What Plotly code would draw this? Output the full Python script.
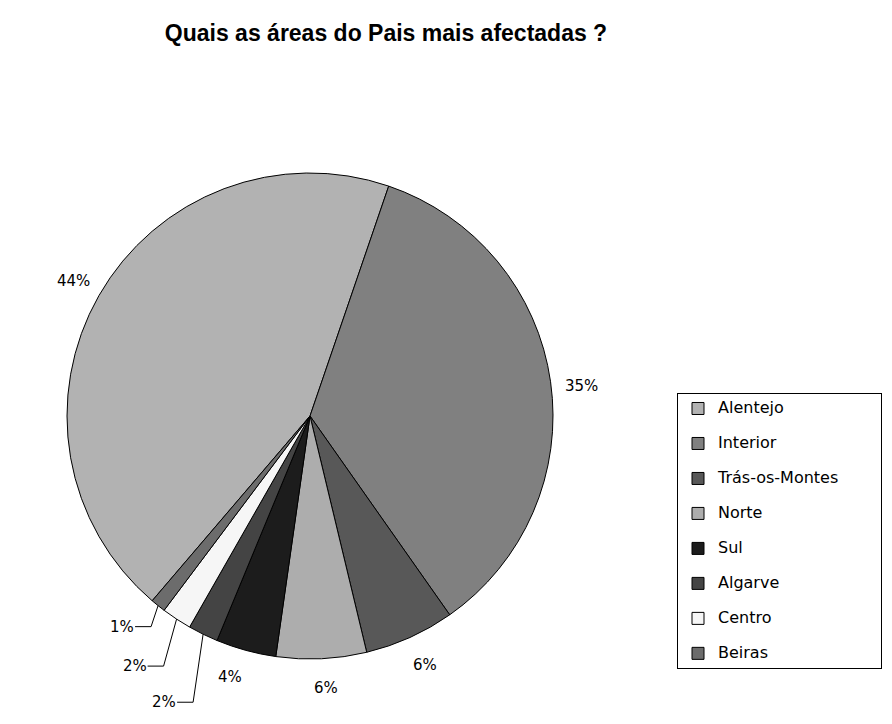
import math
import plotly.graph_objects as go

# Survey answers: share of responses per region (%)
regions = ["Alentejo", "Interior", "Trás-os-Montes", "Norte", "Sul", "Algarve", "Centro", "Beiras"]
shares = [44, 35, 6, 6, 4, 2, 2, 1]
slice_colors = ["#b2b2b2", "#808080", "#585858", "#adadad", "#1c1c1c", "#444444", "#f6f6f6", "#6c6c6c"]

title_text = "Quais as áreas do Pais mais afectadas ?"

# Page / pie geometry (pixels)
W, H = 892, 724
PIE_CX, PIE_CY, PIE_R = 310, 416, 243
ROTATION = 220.5

# Label placement relative to each slice's outer-edge midpoint (px),
# and whether the label is tied back to its slice with a leader line
label_offsets = [(-25, -15), (31, 4), (15, 28), (5, 29), (-16, 27), (-39, 68), (-42, 47), (-36, 21)]
label_leaders = [False, False, False, False, False, True, True, True]


def to_paper(px, py):
    return px / W, 1 - py / H


# Percentage labels placed around the pie from each slice's mid angle
total = sum(shares)
start = ROTATION
annotations = []
shapes = []
for val, (dx, dy), leader in zip(shares, label_offsets, label_leaders):
    sweep = 360 * val / total
    mid = math.radians(start + sweep / 2)
    start += sweep
    ex = PIE_CX + PIE_R * math.sin(mid)
    ey = PIE_CY - PIE_R * math.cos(mid)
    lx, ly = ex + dx, ey + dy
    px, py = to_paper(lx, ly)
    annotations.append(dict(
        x=px, y=py, xref="paper", yref="paper",
        text=f"{round(100 * val / total)}%",
        showarrow=False, xanchor="center", yanchor="middle",
        font=dict(family="DejaVu Sans", size=15, color="#000000"),
    ))
    if leader:
        p0 = to_paper(ex, ey)
        p1 = to_paper(lx + 29, ly)
        p2 = to_paper(lx + 13, ly)
        shapes.append(dict(
            type="path", xref="paper", yref="paper",
            path=f"M {p0[0]},{p0[1]} L {p1[0]},{p1[1]} L {p2[0]},{p2[1]}",
            line=dict(color="#000000", width=1),
        ))

# Legend entries: larger visible text, with a spacer line that sets row pitch and box width
spacer = "<span style='font-size:12px'>" + "\u00a0" * 41 + "</span>"
legend_labels = []
for i, r in enumerate(regions):
    entry = f"<span style='font-size:16px'>{r}</span>"
    if i < len(regions) - 1:
        entry += "<br>" + spacer
    legend_labels.append(entry)

fig = go.Figure(
    go.Pie(
        labels=legend_labels,
        values=shares,
        sort=False,
        direction="clockwise",
        rotation=ROTATION,
        marker=dict(colors=slice_colors, line=dict(color="#000000", width=1)),
        textinfo="none",
        domain=dict(
            x=[(PIE_CX - PIE_R) / W, (PIE_CX + PIE_R) / W],
            y=[1 - (PIE_CY + PIE_R) / H, 1 - (PIE_CY - PIE_R) / H],
        ),
        hoverinfo="percent",
    )
)

fig.update_layout(
    width=W,
    height=H,
    margin=dict(l=0, r=0, t=0, b=0),
    paper_bgcolor="#ffffff",
    plot_bgcolor="#ffffff",
    title=dict(
        text=title_text,
        x=386 / W,
        xanchor="center",
        y=1 - 33 / H,
        yanchor="middle",
        font=dict(family="Liberation Sans", size=23, color="#000000", weight="bold"),
    ),
    annotations=annotations,
    shapes=shapes,
    showlegend=True,
    legend=dict(
        x=677 / W,
        y=1 - 393 / H,
        xanchor="left",
        yanchor="top",
        bordercolor="#000000",
        borderwidth=1,
        bgcolor="#ffffff",
        valign="top",
        font=dict(family="DejaVu Sans", size=12.3, color="#000000"),
        traceorder="normal",
    ),
)

fig.write_html("out.html")
